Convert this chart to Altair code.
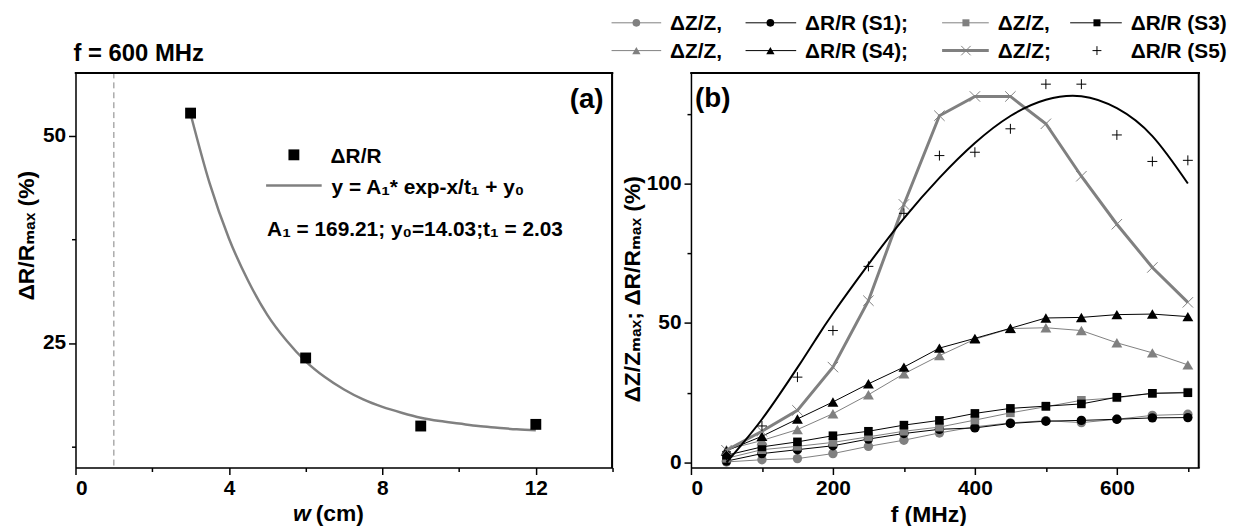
import altair as alt
import pandas as pd

FONT = "Liberation Sans, Arial, DejaVu Sans, sans-serif"
GRAY = "#808080"
BLACK = "#000000"

# ---------------- panel (a) data ----------------
w_cm = [3, 6, 9, 12]
drr_a = [52.7, 23.2, 15.0, 15.2]
fit_w = [3.0, 3.5, 4.0, 4.5, 5.0, 5.5, 6.0, 6.5, 7.0, 7.5, 8.0, 8.5, 9.0, 9.5, 10.0, 10.5, 11.0, 11.5, 12.0]
fit_a = [52.6, 44.2, 37.6, 32.5, 28.4, 25.3, 22.8, 20.9, 19.4, 18.2, 17.3, 16.6, 16.0, 15.6, 15.3, 15.0, 14.8, 14.6, 14.5]
marker_w = [1]
X_A = [0, 14]
Y_A = [10, 57.6]

# ---------------- panel (b) data ----------------
freq = [50, 100, 150, 200, 250, 300, 350, 400, 450, 500, 550, 600, 650, 700]
s1_z = [0.2, 1.0, 1.4, 3.2, 5.8, 8.0, 10.6, 12.8, 14.2, 15.0, 14.3, 15.5, 16.9, 17.3]
s1_r = [0.5, 3.2, 4.6, 6.0, 8.4, 10.4, 11.9, 12.4, 14.0, 14.8, 15.1, 15.5, 16.0, 16.1]
s3_z = [1.5, 4.6, 5.8, 7.2, 9.2, 11.2, 12.7, 15.2, 17.8, 20.0, 22.3, 23.2, 24.8, 25.2]
s3_r = [2.6, 5.6, 7.4, 9.6, 11.2, 13.4, 15.1, 17.6, 19.4, 20.2, 21.0, 23.4, 24.8, 25.0]
s4_z = [4.6, 7.9, 11.8, 17.5, 24.3, 31.8, 38.3, 44.2, 48.0, 48.3, 47.3, 42.9, 39.3, 35.0]
s4_r = [4.2, 9.4, 15.6, 21.7, 28.2, 34.2, 41.0, 44.5, 48.1, 51.8, 52.0, 53.0, 53.2, 52.3]
s5_z = [4.4, 11.2, 18.7, 34.2, 58.0, 92.5, 124.3, 131.2, 131.2, 121.4, 102.6, 85.4, 69.9, 57.4]
s5_r = [2.5, 13.1, 30.6, 47.3, 70.3, 89.3, 110.0, 111.2, 119.6, 135.6, 135.6, 117.4, 107.9, 108.3]
fit_f = [50, 75, 100, 125, 150, 175, 200, 250, 300, 350, 400, 450, 500, 550, 600, 650, 700]
fit_b = [0.0, 7.5, 15.5, 24.5, 34.0, 43.8, 53.4, 71.0, 87.5, 102.0, 114.5, 124.2, 130.0, 131.3, 127.0, 117.0, 100.0]
X_B = [0, 716]
Y_B = [-1.8, 139.8]

W_A, W_B, H = 541, 512, 398
df_one = pd.DataFrame({"k": [0]})

PLUS = "M-1,0H1M0,-1V1"
XMARK = "M-1,-1L1,1M-1,1L1,-1"


def ax(**kw):
    base = dict(labelFont=FONT, labelFontSize=21, labelFontWeight="bold", labelColor=BLACK,
                titleFont=FONT, titleFontSize=23, titleFontWeight="bold", titleColor=BLACK,
                domainColor=BLACK, domainWidth=1.5, tickColor=BLACK, tickWidth=1.5,
                grid=False, labelPadding=3)
    base.update(kw)
    return alt.Axis(**base)


def cond_tick(test):
    return {"condition": {"test": test, "value": 7}, "value": 4}


def txt(text, x, y, size=21, align="left", baseline="alphabetic", style="normal"):
    return alt.Chart(df_one).mark_text(
        text=text, font=FONT, fontSize=size, fontWeight="bold", fontStyle=style,
        align=align, baseline=baseline, color=BLACK
    ).encode(x=alt.value(x), y=alt.value(y))


def frame(w, h):
    # top and right edges of the plot box (drawn just inside the edge)
    top = alt.Chart(df_one).mark_rule(color=BLACK, strokeWidth=2).encode(
        x=alt.value(-0.75), x2=alt.value(w + 0.75), y=alt.value(0.5))
    right = alt.Chart(df_one).mark_rule(color=BLACK, strokeWidth=2).encode(
        x=alt.value(w - 0.5), y=alt.value(-0.5), y2=alt.value(h + 0.5))
    return [top, right]


# ---------------- panel (a) ----------------
xa = alt.X("w:Q", scale=alt.Scale(domain=X_A, nice=False, zero=False),
           axis=ax(values=[0, 2, 4, 6, 8, 10, 12, 14],
                   labelExpr="datum.value % 4 === 0 ? datum.label : ''",
                   tickSize=cond_tick("datum.value % 4 === 0"), title=None))
ya = alt.Y("v:Q", scale=alt.Scale(domain=Y_A, nice=False, zero=False),
           axis=ax(values=[12.5, 25, 37.5, 50],
                   labelExpr="datum.value % 25 === 0 ? datum.label : ''",
                   tickSize=cond_tick("datum.value % 25 === 0"),
                   title="ΔR/Rₘₐₓ (%)", titleX=-42, titleY=164,
                   titleBaseline="alphabetic", titleAngle=270))

rule_a = alt.Chart(pd.DataFrame({"w": marker_w})).mark_rule(
    color=GRAY, strokeDash=[6, 4], strokeWidth=1).encode(x=xa)
fit_line_a = alt.Chart(pd.DataFrame({"w": fit_w, "v": fit_a})).mark_line(
    color=GRAY, strokeWidth=2.5, interpolate="monotone").encode(x=xa, y=ya)
pts_a = alt.Chart(pd.DataFrame({"w": w_cm, "v": drr_a})).mark_point(
    shape="square", filled=True, size=120, color=BLACK, opacity=1).encode(x=xa, y=ya)

ann_a = [
    txt("(a)", 532, 36, size=28, align="right"),
    alt.Chart(df_one).mark_point(shape="square", filled=True, size=120, color=BLACK, opacity=1)
       .encode(x=alt.value(220), y=alt.value(83)),
    txt("ΔR/R", 257, 91),
    alt.Chart(df_one).mark_rule(color=GRAY, strokeWidth=2.5)
       .encode(x=alt.value(192), x2=alt.value(248), y=alt.value(114)),
    txt("y = A₁* exp-x/t₁ + y₀", 258, 122),
    txt("A₁ = 169.21; y₀=14.03;t₁ = 2.03", 193, 165),
    txt("f = 600 MHz", -2, -12, size=24),
    txt("w", 237, 452, size=23, align="right", style="italic"),
    txt("(cm)", 242, 452, size=23),
]

panel_a = alt.layer(rule_a, fit_line_a, pts_a, *ann_a, *frame(W_A, H)).properties(
    width=W_A, height=H)

# ---------------- panel (b) ----------------
xb = alt.X("f:Q", scale=alt.Scale(domain=X_B, nice=False, zero=False),
           axis=ax(values=[0, 100, 200, 300, 400, 500, 600, 700],
                   labelExpr="datum.value % 200 === 0 ? datum.label : ''",
                   tickSize=cond_tick("datum.value % 200 === 0"),
                   title="f (MHz)", titleX=239, titleY=54, titleBaseline="alphabetic"))
yb = alt.Y("v:Q", scale=alt.Scale(domain=Y_B, nice=False, zero=False),
           axis=ax(values=[0, 25, 50, 75, 100, 125],
                   labelExpr="datum.value % 50 === 0 ? datum.label : ''",
                   tickSize=cond_tick("datum.value % 50 === 0"),
                   title="ΔZ/Zₘₐₓ; ΔR/Rₘₐₓ (%)", titleX=-52, titleY=218,
                   titleBaseline="alphabetic", titleAngle=270))

series = [
    (s1_z, GRAY, "circle", 90, True, 1),
    (s1_r, BLACK, "circle", 90, True, 1),
    (s3_z, GRAY, "square", 75, True, 1),
    (s3_r, BLACK, "square", 75, True, 1),
    (s4_z, GRAY, "triangle-up", 120, True, 1),
    (s4_r, BLACK, "triangle-up", 120, True, 1),
    (s5_z, GRAY, XMARK, 110, False, 3),
]
layers_b = []
for vals, col, shp, sz, filled, lw in series:
    d = pd.DataFrame({"f": freq, "v": vals})
    layers_b.append(alt.Chart(d).mark_line(color=col, strokeWidth=lw).encode(x=xb, y=yb))
    layers_b.append(alt.Chart(d).mark_point(shape=shp, size=sz, filled=filled, color=col,
                                            opacity=1, strokeWidth=1).encode(x=xb, y=yb))
layers_b.append(alt.Chart(pd.DataFrame({"f": freq, "v": s5_r})).mark_point(
    shape=PLUS, size=100, filled=False, color=BLACK, opacity=1, strokeWidth=1).encode(x=xb, y=yb))
layers_b.append(alt.Chart(pd.DataFrame({"f": fit_f, "v": fit_b})).mark_line(
    color=BLACK, strokeWidth=2, interpolate="natural").encode(x=xb, y=yb))


def leg_item(xs, xe, xm, y, color, shape, size, filled, lw, label, tx, line=True):
    out = []
    if line:
        out.append(alt.Chart(df_one).mark_rule(color=color, strokeWidth=lw)
                   .encode(x=alt.value(xs), x2=alt.value(xe), y=alt.value(y)))
    out.append(alt.Chart(df_one).mark_point(shape=shape, size=size, filled=filled, color=color,
                                            opacity=1, strokeWidth=1)
               .encode(x=alt.value(xm), y=alt.value(y)))
    out.append(txt(label, tx, y + 7, size=21))
    return out


legend = []
r1, r2 = -50, -22
legend += leg_item(-80, -30, -55, r1, GRAY, "circle", 60, True, 1, "ΔZ/Z,", -21)
legend += leg_item(55, 106, 80, r1, BLACK, "circle", 60, True, 1, "ΔR/R (S1);", 115)
legend += leg_item(253, 300, 277, r1, GRAY, "square", 50, True, 1, "ΔZ/Z,", 309)
legend += leg_item(382, 434, 409, r1, BLACK, "square", 50, True, 1, "ΔR/R (S3)", 443)
legend += leg_item(-80, -30, -55, r2, GRAY, "triangle-up", 70, True, 1, "ΔZ/Z,", -21)
legend += leg_item(55, 106, 80, r2, BLACK, "triangle-up", 70, True, 1, "ΔR/R (S4);", 115)
legend += leg_item(253, 300, 277, r2, GRAY, XMARK, 90, False, 3, "ΔZ/Z;", 309)
legend += leg_item(382, 434, 409, r2, BLACK, PLUS, 80, False, 1, "ΔR/R (S5)", 443, line=False)

ann_b = [txt("(b)", 4, 35, size=28)]

panel_b = alt.layer(*layers_b, *legend, *ann_b, *frame(W_B, H)).properties(width=W_B, height=H)

chart = alt.hconcat(panel_a, panel_b, spacing=79, bounds="flush").properties(
    padding={"left": 7, "top": 2, "right": 0, "bottom": 0},
    background="white",
)

chart.save("out.html", embed_options={"renderer": "svg", "actions": False})
